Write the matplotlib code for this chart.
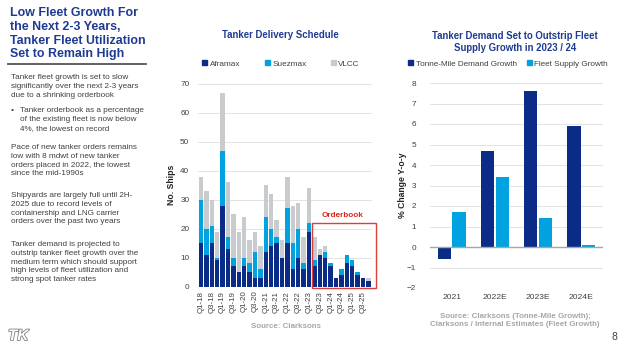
import matplotlib.pyplot as plt
import matplotlib.patheffects as pe
from matplotlib.patches import Rectangle, Patch
import numpy as np

plt.rcParams['font.family'] = ['Liberation Sans', 'DejaVu Sans']

# Tanker delivery schedule (no. ships per quarter)
quarters = ['Q1-18', 'Q2-18', 'Q3-18', 'Q4-18', 'Q1-19', 'Q2-19', 'Q3-19', 'Q4-19',
            'Q1-20', 'Q2-20', 'Q3-20', 'Q4-20', 'Q1-21', 'Q2-21', 'Q3-21', 'Q4-21',
            'Q1-22', 'Q2-22', 'Q3-22', 'Q4-22', 'Q1-23', 'Q2-23', 'Q3-23', 'Q4-23',
            'Q1-24', 'Q2-24', 'Q3-24', 'Q4-24', 'Q1-25', 'Q2-25', 'Q3-25', 'Q4-25']
aframax = [15, 11, 15, 9, 28, 13, 7, 5, 7, 5, 3, 3, 12, 14, 15, 10,
           15, 6, 10, 6, 19, 7, 11, 10, 7, 3, 4, 8, 7, 4, 3, 2]
suezmax = [15, 9, 6, 1, 19, 4, 3, 0, 3, 3, 9, 3, 12, 6, 2, 0,
           12, 9, 10, 2, 3, 2, 0, 2, 1, 0, 2, 3, 2, 1, 0, 0]
vlcc = [8, 13, 9, 9, 20, 19, 15, 14, 14, 8, 7, 8, 11, 12, 6, 6,
        11, 13, 9, 9, 12, 8, 2, 2, 0, 0, 0, 0, 0, 0, 0, 1]

# Demand vs supply growth (% y-o-y)
years = ['2021', '2022E', '2023E', '2024E']
demand = [-0.6, 4.7, 7.6, 5.9]
supply = [1.7, 3.4, 1.4, 0.1]

navy = '#0B2C86'
cyan = '#00A3E0'
grey = '#C9CCCF'
title_col = '#1F3A93'
text_col = '#404040'
grid_col = '#E3E3E3'

fig = plt.figure(figsize=(6.4, 3.5), dpi=100)

def fx(px):
    return px / 640

def fy(py):
    return 1 - py / 350

# ---- left text panel
fig.text(fx(10), fy(7), 'Low Fleet Growth For\nthe Next 2-3 Years,\nTanker Fleet Utilization\nSet to Remain High',
         ha='left', va='top', fontsize=8.9, fontweight='bold', color=title_col, linespacing=1.2)
fig.add_artist(plt.Line2D([fx(8), fx(146)], [fy(64), fy(64)], color='#555555', lw=1.3))

body = [
    (11, 74, 'Tanker fleet growth is set to slow\nsignificantly over the next 2-3 years\ndue to a shrinking orderbook'),
    (20, 107, 'Tanker orderbook as a percentage\nof the existing fleet is now below\n4%, the lowest on record'),
    (11, 144, 'Pace of new tanker orders remains\nlow with 8 mdwt of new tanker\norders placed in 2022, the lowest\nsince the mid-1990s'),
    (11, 192, 'Shipyards are largely full until 2H-\n2025 due to record levels of\ncontainership and LNG carrier\norders over the past two years'),
    (11, 241, 'Tanker demand is projected to\noutstrip tanker fleet growth over the\nmedium term which should support\nhigh levels of fleet utilization and\nstrong spot tanker rates'),
]
for x, y, s in body:
    fig.text(fx(x), fy(y), s, ha='left', va='top', fontsize=5.9, color=text_col, linespacing=1.36)
fig.text(fx(11), fy(107), '•', ha='left', va='top', fontsize=5.9, color=text_col)

# logo
fig.text(fx(8), fy(336), 'TK', ha='left', va='center', fontsize=11, fontweight='bold',
         fontstyle='italic', color='white',
         path_effects=[pe.withStroke(linewidth=1.2, foreground='#808080')])

# ---- middle chart
ax1 = fig.add_axes([fx(197.7), fy(286.5), fx(174), fy(84) - fy(286.5)])
x = np.arange(len(quarters))
a = np.array(aframax)
s = np.array(suezmax)
v = np.array(vlcc)
ax1.bar(x, a, width=0.8, color=navy, zorder=3)
ax1.bar(x, s, width=0.8, bottom=a, color=cyan, zorder=3)
ax1.bar(x, v, width=0.8, bottom=a + s, color=grey, zorder=3)
ax1.set_xlim(-0.6, len(quarters) - 0.4)
ax1.set_ylim(0, 70)
ax1.set_yticks(range(0, 71, 10))
ax1.set_xticks(x[::2])
ax1.set_xticklabels(quarters[::2], rotation=90, fontsize=5.7, color=text_col)
ax1.tick_params(axis='y', labelsize=5.9, colors=text_col, length=0, pad=6)
ax1.tick_params(axis='x', length=0, pad=3)
ax1.grid(axis='y', color=grid_col, lw=0.7, zorder=0)
for sp in ax1.spines.values():
    sp.set_visible(False)
ax1.set_ylabel('No. Ships', fontsize=6.2, fontweight='bold', color='#222222', labelpad=3)

ax1.add_patch(Rectangle((20.55, -0.45), 11.85, 22.45, fill=False, edgecolor='#D9403A',
                        lw=1.0, clip_on=False, zorder=5))
ax1.text(26.3, 23.5, 'Orderbook', ha='center', va='bottom', fontsize=5.9,
         fontweight='bold', color='#D9251C')

fig.text(fx(280), fy(35), 'Tanker Delivery Schedule', ha='center', va='center',
         fontsize=6.9, fontweight='bold', color=title_col)
fig.legend(handles=[Patch(color=navy, label='Aframax'), Patch(color=cyan, label='Suezmax'),
                    Patch(color=grey, label='VLCC')],
           loc='center', bbox_to_anchor=(fx(281), fy(64)), ncol=3, frameon=False,
           fontsize=5.9, handlelength=0.6, handleheight=0.6, handletextpad=0.3,
           columnspacing=3.0, labelcolor=text_col)
fig.text(fx(286), fy(327), 'Source: Clarksons', ha='center', va='center', fontsize=5.7,
         fontweight='bold', color='#A6A6A6')

# ---- right chart
ax2 = fig.add_axes([fx(430), fy(288), fx(173), fy(83) - fy(288)])
xg = np.arange(len(years))
ax2.bar(xg - 0.17, demand, width=0.31, color=navy, zorder=3)
ax2.bar(xg + 0.17, supply, width=0.31, color=cyan, zorder=3)
ax2.set_xlim(-0.5, len(years) - 0.5)
ax2.set_ylim(-2, 8)
ax2.set_yticks(range(-2, 9))
ax2.set_xticks(xg)
ax2.set_xticklabels(years, fontsize=6.1, color=text_col)
ax2.tick_params(axis='y', labelsize=5.9, colors=text_col, length=0, pad=10)
ax2.tick_params(axis='x', length=0, pad=4)
ax2.grid(axis='y', color=grid_col, lw=0.7, zorder=0)
ax2.axhline(0, color='#A6A6A6', lw=1.0, zorder=4)
for sp in ax2.spines.values():
    sp.set_visible(False)
ax2.set_ylabel('% Change Y-o-y', fontsize=6.2, fontweight='bold', color='#222222', labelpad=0)

fig.text(fx(515), fy(42), 'Tanker Demand Set to Outstrip Fleet\nSupply Growth in 2023 / 24',
         ha='center', va='center', fontsize=6.9, fontweight='bold', color=title_col,
         linespacing=1.15)
fig.legend(handles=[Patch(color=navy, label='Tonne-Mile Demand Growth'),
                    Patch(color=cyan, label='Fleet Supply Growth')],
           loc='center', bbox_to_anchor=(fx(508), fy(64)), ncol=2, frameon=False,
           fontsize=5.9, handlelength=0.6, handleheight=0.6, handletextpad=0.3,
           columnspacing=1.2, labelcolor=text_col)
fig.text(fx(515), fy(320), 'Source: Clarksons (Tonne-Mile Growth);\nClarksons / Internal Estimates (Fleet Growth)',
         ha='center', va='center', fontsize=5.7, fontweight='bold', color='#A6A6A6',
         linespacing=1.2)
fig.text(fx(614), fy(337), '8', ha='center', va='center', fontsize=7.5, color=text_col)

fig.savefig('out.png', dpi=100)
